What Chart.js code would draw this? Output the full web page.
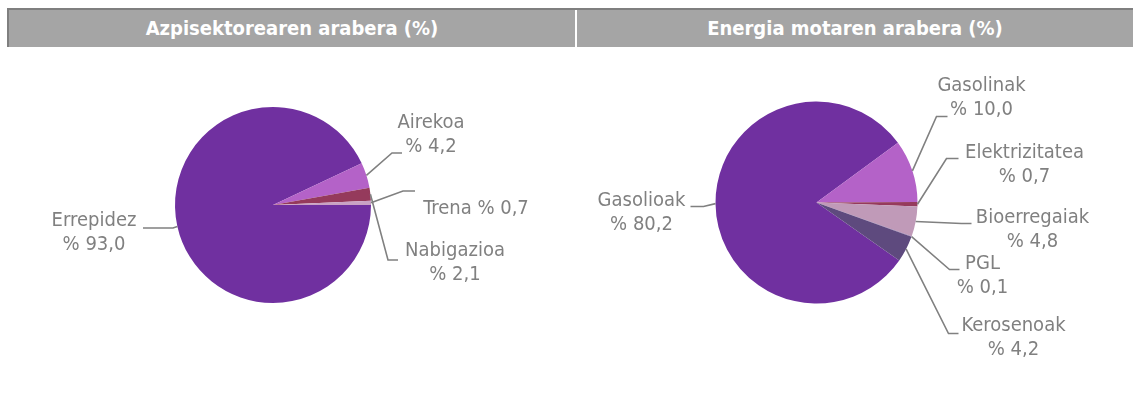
<!DOCTYPE html>
<html>
<head>
<meta charset="utf-8">
<script src="https://cdn.jsdelivr.net/npm/chart.js@4/dist/chart.umd.min.js"></script>
<style>
  html,body{margin:0;padding:0;background:#fff;}
  #page{position:relative;width:1133px;height:403px;overflow:hidden;}
  .rule{position:absolute;background:#7f7f7f;}
  .hdr{position:absolute;top:10px;height:37px;background:#a5a5a5;color:#fff;
       font:bold 20px "DejaVu Sans Condensed","DejaVu Sans",sans-serif;line-height:37px;text-align:center;}
  .box{position:absolute;top:47px;height:356px;}
</style>
</head>
<body>
<div id="page">
  <div class="rule" style="left:7px;top:8px;width:1126px;height:2px"></div>
  <div class="rule" style="left:7px;top:8px;width:2px;height:39px"></div>
  <div class="hdr" style="left:9px;width:566px">Azpisektorearen arabera (%)</div>
  <div class="hdr" style="left:577px;width:556px">Energia motaren arabera (%)</div>
  <div class="box" style="left:0;width:575px"><canvas id="subsector"></canvas></div>
  <div class="box" style="left:577px;width:556px"><canvas id="energy"></canvas></div>
</div>
<script>
// shares by subsector
const subsectorLabels = ['Errepidez', 'Airekoa', 'Nabigazioa', 'Trena'];
const subsectorValues = [93.0, 4.2, 2.1, 0.7];
const subsectorColors = ['#7030a0', '#b462c8', '#953a5c', '#c9a2c4'];

// shares by energy type
const energyLabels = ['Gasolioak', 'Gasolinak', 'Elektrizitatea', 'Bioerregaiak', 'PGL', 'Kerosenoak'];
const energyValues = [80.2, 10.0, 0.7, 4.8, 0.1, 4.2];
const energyColors = ['#7030a0', '#b462c8', '#953a5c', '#c09ab8', '#8b6fa8', '#5e4a7e'];

// label placement, offsets from the pie centre: leader elbow, leader end, first text line
const subsectorPlacement = [
  {elbow: [-100, 23], end: [-130, 23], text: [-179, 16]},
  {elbow: [119, -52], end: [129, -52], text: [158, -82]},
  {elbow: [115, 55],  end: [125, 55],  text: [182, 46]},
  {elbow: [130, -14], end: [142, -14], text: [203, 4], inline: true}
];
const energyPlacement = [
  {elbow: [-113, 4],   end: [-126, 4],   text: [-175, -2]},
  {elbow: [120, -86],  end: [131, -86],  text: [165, -117]},
  {elbow: [130, -44],  end: [142, -44],  text: [208, -50]},
  {elbow: [145, 21],   end: [155, 21],   text: [216, 15]},
  {elbow: [133, 67],   end: [143, 67],   text: [166, 61]},
  {elbow: [132, 131],  end: [142, 131],  text: [197, 123]}
];

const pct = v => '% ' + v.toFixed(1).replace('.', ',');

const leaderLabels = {
  id: 'leaderLabels',
  afterDatasetsDraw(chart, args, opts) {
    const ctx = chart.ctx;
    const names = chart.data.labels, vals = chart.data.datasets[0].data;
    ctx.save();
    ctx.strokeStyle = opts.color; ctx.fillStyle = opts.color; ctx.lineWidth = 1.6;
    ctx.font = '20px "DejaVu Sans Condensed", "DejaVu Sans", sans-serif';
    ctx.textAlign = 'center'; ctx.textBaseline = 'middle';
    chart.getDatasetMeta(0).data.forEach((arc, i) => {
      const p = arc.getProps(['x', 'y', 'startAngle', 'endAngle', 'outerRadius'], true);
      const mid = (p.startAngle + p.endAngle) / 2;
      const L = opts.placement[i];
      ctx.beginPath();
      ctx.moveTo(p.x + Math.cos(mid) * p.outerRadius, p.y + Math.sin(mid) * p.outerRadius);
      ctx.lineTo(p.x + L.elbow[0], p.y + L.elbow[1]);
      ctx.lineTo(p.x + L.end[0], p.y + L.end[1]);
      ctx.stroke();
      const lines = L.inline ? [names[i] + ' ' + pct(vals[i])] : [names[i], pct(vals[i])];
      lines.forEach((t, k) => ctx.fillText(t, p.x + L.text[0], p.y + L.text[1] + k * 24));
    });
    ctx.restore();
  }
};

function pie(id, labels, values, colors, rotation, padding, placement) {
  return new Chart(document.getElementById(id), {
    type: 'pie',
    data: {labels, datasets: [{data: values, backgroundColor: colors, borderWidth: 0, hoverOffset: 0, offset: 0}]},
    options: {
      responsive: true, maintainAspectRatio: false, animation: false,
      rotation, layout: {padding},
      plugins: {legend: {display: false}, tooltip: {enabled: false},
                leaderLabels: {placement, color: '#808080'}}
    },
    plugins: [leaderLabels]
  });
}

pie('subsector', subsectorLabels, subsectorValues, subsectorColors, 90,
    {left: 175, top: 60, right: 204, bottom: 100}, subsectorPlacement);
pie('energy', energyLabels, energyValues, energyColors, 125,
    {left: 138.5, top: 54.5, right: 215.5, bottom: 99.5}, energyPlacement);
</script>
</body>
</html>
